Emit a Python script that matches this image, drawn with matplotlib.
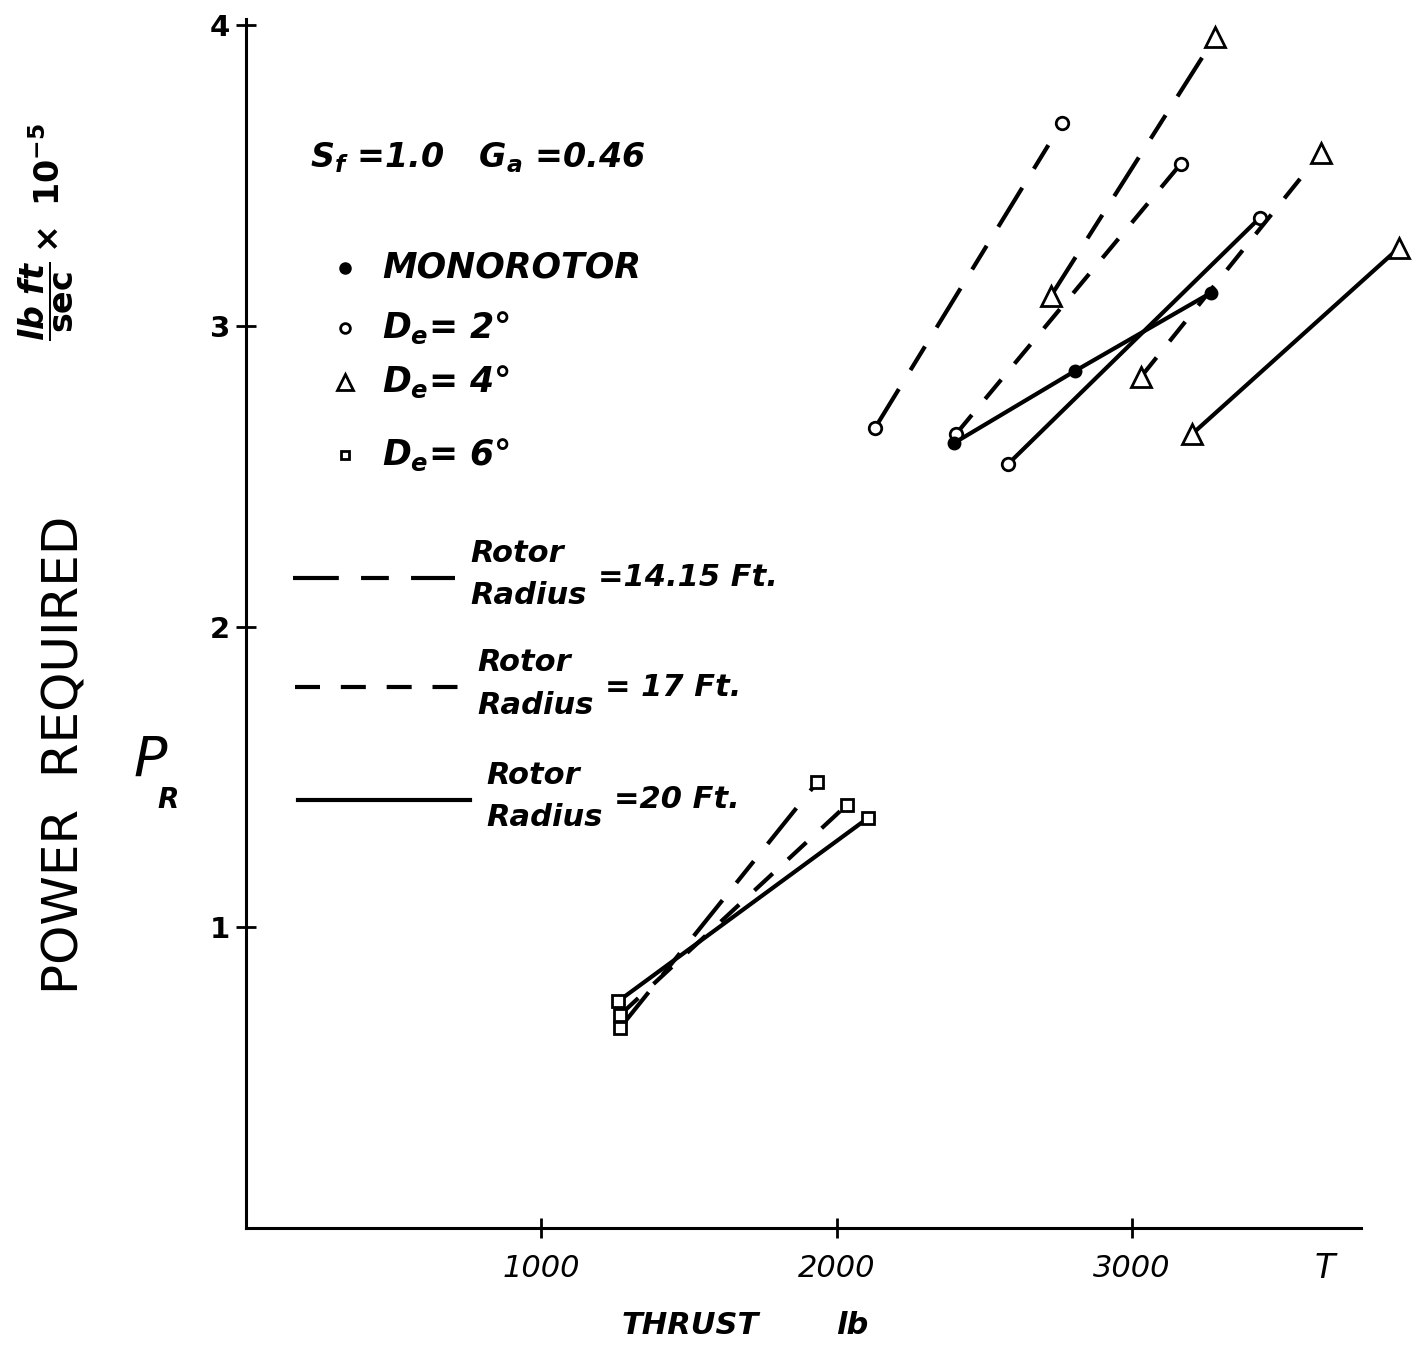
import matplotlib
matplotlib.use("Agg")
from matplotlib import pyplot as plt
from matplotlib.lines import Line2D

# thrust (lb) and power required (lb ft/sec x 1e-5)
# D_e = 2 deg (open circles)
thrust_2deg_r1415 = [2130, 2763]
power_2deg_r1415 = [2.66, 3.675]
thrust_2deg_r17 = [2404, 3166]
power_2deg_r17 = [2.64, 3.54]
thrust_2deg_r20 = [2580, 3433]
power_2deg_r20 = [2.54, 3.36]

# D_e = 4 deg (open triangles)
thrust_4deg_r1415 = [2726, 3281]
power_4deg_r1415 = [3.10, 3.96]
thrust_4deg_r17 = [3030, 3639]
power_4deg_r17 = [2.83, 3.575]
thrust_4deg_r20 = [3203, 3904]
power_4deg_r20 = [2.64, 3.26]

# D_e = 6 deg (open squares)
thrust_6deg_r1415 = [1267, 1935]
power_6deg_r1415 = [0.665, 1.483]
thrust_6deg_r17 = [1267, 2035]
power_6deg_r17 = [0.708, 1.407]
thrust_6deg_r20 = [1261, 2106]
power_6deg_r20 = [0.754, 1.363]

# monorotor (filled dots)
thrust_mono = [2397, 2807, 3267]
power_mono = [2.61, 2.85, 3.11]

x_ticks = [1000, 2000, 3000]
x_ticklabels = ["1000", "2000", "3000"]
y_ticks = [1, 2, 3, 4]
y_ticklabels = ["1", "2", "3", "4"]

W, H = 1412, 1354


def fx(px):
    return px / W


def fy(py):
    return 1 - py / H


def main():
    plt.rcParams["lines.scale_dashes"] = False
    plt.rcParams["mathtext.fontset"] = "custom"
    plt.rcParams["mathtext.it"] = "DejaVu Sans:italic:bold"
    plt.rcParams["mathtext.rm"] = "DejaVu Sans:bold"
    plt.rcParams["mathtext.bf"] = "DejaVu Sans:bold"

    fig = plt.figure(figsize=(W / 100, H / 100), dpi=100)
    ax = fig.add_axes([fx(245.5), fy(1228), 3900 * 0.2955 / W, (1228 - 25.2) / H])
    ax.set_xlim(0, 3900)
    ax.set_ylim(0, 4)

    for s in ["top", "right"]:
        ax.spines[s].set_visible(False)
    ax.spines["left"].set_linewidth(2.2)
    ax.spines["bottom"].set_linewidth(2.2)
    ax.spines["bottom"].set_bounds(0, 3775)
    ax.spines["left"].set_bounds(0, 4.02)

    ax.set_xticks(x_ticks)
    ax.set_xticklabels(x_ticklabels, fontsize=22, fontstyle="italic")
    ax.set_yticks(y_ticks)
    ax.set_yticklabels(y_ticklabels, fontsize=21, fontweight="bold")
    ax.tick_params(direction="inout", length=14, width=2, pad=12)
    ax.tick_params(axis="y", pad=4)

    long_dash = (0, (33, 16, 20, 16))
    med_dash = (0, (18, 15))
    lw = 3
    kw = dict(color="black", lw=lw, mec="black", mew=2, clip_on=False)

    # 2 deg
    ax.plot(thrust_2deg_r1415, power_2deg_r1415, linestyle=long_dash,
            marker="o", ms=9, mfc="white", **kw)
    ax.plot(thrust_2deg_r17, power_2deg_r17, linestyle=med_dash,
            marker="o", ms=9, mfc="white", **kw)
    ax.plot(thrust_2deg_r20, power_2deg_r20, linestyle="-",
            marker="o", ms=9, mfc="white", **kw)
    # 4 deg
    ax.plot(thrust_4deg_r1415, power_4deg_r1415, linestyle=long_dash,
            marker="^", ms=14, mfc="white", **kw)
    ax.plot(thrust_4deg_r17, power_4deg_r17, linestyle=med_dash,
            marker="^", ms=14, mfc="white", **kw)
    ax.plot(thrust_4deg_r20, power_4deg_r20, linestyle="-",
            marker="^", ms=14, mfc="white", **kw)
    # 6 deg
    ax.plot(thrust_6deg_r1415, power_6deg_r1415, linestyle=long_dash,
            marker="s", ms=8, mfc="white", **kw)
    ax.plot(thrust_6deg_r17, power_6deg_r17, linestyle=med_dash,
            marker="s", ms=8, mfc="white", **kw)
    ax.plot(thrust_6deg_r20, power_6deg_r20, linestyle="-",
            marker="s", ms=8, mfc="white", **kw)
    # monorotor
    ax.plot(thrust_mono, power_mono, linestyle="-", marker="o", ms=8,
            mfc="black", **kw)

    # axis texts
    fig.text(fx(1325), fy(1268), "T", fontsize=24, fontstyle="italic",
             ha="center", va="center")
    fig.text(fx(690), fy(1325), "THRUST", fontsize=22, fontstyle="italic",
             fontweight="bold", ha="center", va="center")
    fig.text(fx(852), fy(1325), "lb", fontsize=22, fontstyle="italic",
             fontweight="bold", ha="center", va="center")

    fig.text(fx(65), fy(755), "POWER  REQUIRED", fontsize=36, rotation=90,
             ha="center", va="center")
    fig.text(fx(150), fy(760), "P", fontsize=40, fontstyle="italic",
             ha="center", va="center")
    fig.text(fx(168), fy(800), "R", fontsize=20, fontstyle="italic",
             fontweight="bold", ha="center", va="center")
    fig.text(fx(46), fy(232), r"$\dfrac{lb\ ft}{\mathrm{sec}}\times\ 10^{-5}$",
             fontsize=24, rotation=90, ha="center", va="center")

    # parameters
    fig.text(fx(310), fy(158), r"$S_f$ =1.0   $G_a$ =0.46", fontsize=24,
             fontstyle="italic", fontweight="bold", ha="left", va="center")

    # marker key
    key = [("o", "black", 7, 268, "MONOROTOR"),
           ("o", "white", 7, 328, r"$D_e$= 2°"),
           ("^", "white", 11, 382, r"$D_e$= 4°"),
           ("s", "white", 6, 455, r"$D_e$= 6°")]
    for m, fc, ms, py, label in key:
        fig.add_artist(Line2D([fx(345)], [fy(py)], marker=m, ms=ms, mfc=fc,
                              mec="black", mew=2, linestyle="none"))
        fig.text(fx(382), fy(py), label, fontsize=25, fontstyle="italic",
                 fontweight="bold", ha="left", va="center")

    # line style key
    radius_key = [(long_dash, 293, 455, 578, 470, "=14.15 Ft."),
                  (med_dash, 295, 460, 687, 477, "= 17 Ft."),
                  ("-", 298, 470, 800, 486, "=20 Ft.")]
    for ls, x0, x1, py, tx, label in radius_key:
        fig.add_artist(Line2D([fx(x0), fx(x1)], [fy(py), fy(py)], color="black",
                              lw=lw, linestyle=ls))
        fig.text(fx(tx), fy(py - 24), "Rotor", fontsize=22, fontstyle="italic",
                 fontweight="bold", ha="left", va="center")
        fig.text(fx(tx), fy(py + 18), "Radius", fontsize=22, fontstyle="italic",
                 fontweight="bold", ha="left", va="center")
        fig.text(fx(tx + 128), fy(py), label, fontsize=22, fontstyle="italic",
                 fontweight="bold", ha="left", va="center")

    fig.savefig("out.png", dpi=100)


if __name__ == '__main__':
    main()
